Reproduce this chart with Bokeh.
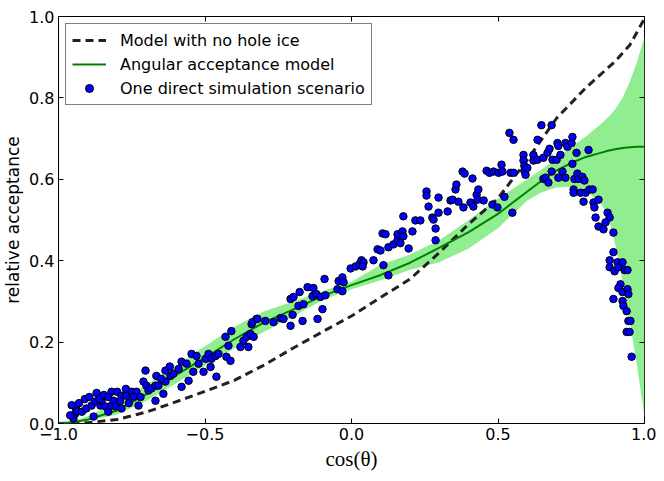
from bokeh.plotting import figure
from bokeh.models import Range1d, FixedTicker, LinearAxis, Legend, LegendItem
from bokeh.embed import file_html
from bokeh.resources import INLINE

# ---- data ----
band_x = [-1.0, -0.95, -0.9, -0.8, -0.7, -0.6, -0.5, -0.4, -0.3, -0.2, -0.1, 0.0, 0.1, 0.2,
          0.3, 0.4, 0.5, 0.6, 0.65, 0.7, 0.75, 0.8, 0.85, 0.875, 0.9, 0.925, 0.95, 0.975, 1.0]
band_lower = [0.0, 0.001, 0.006, 0.022, 0.055, 0.098, 0.142, 0.185, 0.225, 0.262, 0.303, 0.33,
              0.352, 0.378, 0.396, 0.43, 0.48, 0.548, 0.568, 0.58, 0.582, 0.572, 0.543, 0.51,
              0.44, 0.35, 0.25, 0.14, 0.015]
band_upper = [0.0, 0.006, 0.018, 0.05, 0.095, 0.142, 0.19, 0.238, 0.275, 0.3, 0.325, 0.348,
              0.39, 0.415, 0.45, 0.5, 0.553, 0.6, 0.625, 0.652, 0.68, 0.705, 0.735, 0.752,
              0.772, 0.8, 0.84, 0.89, 0.95]
model_y = [0.0, 0.003, 0.01, 0.032, 0.072, 0.118, 0.162, 0.207, 0.248, 0.28, 0.313, 0.34,
           0.365, 0.395, 0.432, 0.47, 0.515, 0.57, 0.597, 0.622, 0.64, 0.655, 0.665, 0.67,
           0.674, 0.677, 0.679, 0.68, 0.68]

nohole_x = [-1.0, -0.9, -0.8, -0.7, -0.6, -0.5, -0.4, -0.3, -0.2, -0.1, 0.0, 0.1, 0.2, 0.3,
            0.4, 0.5, 0.6, 0.7, 0.8, 0.9, 0.95, 1.0]
nohole_y = [0.0, 0.002, 0.01, 0.028, 0.053, 0.079, 0.106, 0.143, 0.185, 0.225, 0.264, 0.31,
            0.355, 0.42, 0.49, 0.553, 0.648, 0.75, 0.825, 0.89, 0.93, 0.995]

sim_pts = [
    (-0.949, 0.012), (-0.943, 0.024), (-0.94, 0.037), (-0.935, 0.03), (-0.92, 0.029),
    (-0.905, 0.037), (-0.887, 0.044), (-0.874, 0.054), (-0.857, 0.044), (-0.853, 0.056),
    (-0.84, 0.042), (-0.83, 0.029), (-0.819, 0.044), (-0.812, 0.056), (-0.805, 0.042),
    (-0.819, 0.078), (-0.80, 0.078), (-0.785, 0.068), (-0.768, 0.068), (-0.75, 0.078),
    (-0.734, 0.078), (-0.744, 0.066), (-0.727, 0.044), (-0.785, 0.037), (-0.88, 0.017),
    (-0.71, 0.103), (-0.703, 0.130), (-0.70, 0.093), (-0.693, 0.081), (-0.683, 0.086),
    (-0.669, 0.093), (-0.666, 0.117), (-0.669, 0.056), (-0.659, 0.093), (-0.642, 0.073),
    (-0.635, 0.130), (-0.635, 0.103), (-0.618, 0.117), (-0.608, 0.122), (-0.59, 0.134),
    (-0.58, 0.152), (-0.58, 0.090), (-0.563, 0.147), (-0.556, 0.105), (-0.546, 0.171),
    (-0.54, 0.127), (-0.529, 0.166), (-0.522, 0.147), (-0.505, 0.127), (-0.498, 0.159),
    (-0.488, 0.171), (-0.481, 0.139), (-0.478, 0.159), (-0.464, 0.166), (-0.461, 0.115),
    (-0.454, 0.171), (-0.43, 0.213), (-0.427, 0.164), (-0.42, 0.191), (-0.413, 0.154),
    (-0.41, 0.227), (-0.379, 0.188), (-0.369, 0.203), (-0.358, 0.213), (-0.352, 0.188),
    (-0.345, 0.22), (-0.334, 0.213), (-0.324, 0.257), (-0.341, 0.244),
    (-0.96, 0.02), (-0.955, 0.045), (-0.93, 0.05), (-0.91, 0.06), (-0.895, 0.065),
    (-0.87, 0.075), (-0.86, 0.06), (-0.845, 0.07), (-0.83, 0.065), (-0.79, 0.055),
    (-0.76, 0.05), (-0.72, 0.065), (-0.77, 0.085), (-0.65, 0.11), (-0.62, 0.14),
    (-0.338, 0.249), (-0.321, 0.257), (-0.294, 0.252), (-0.266, 0.249), (-0.242, 0.259),
    (-0.232, 0.257), (-0.208, 0.240), (-0.201, 0.267), (-0.208, 0.306), (-0.198, 0.311),
    (-0.177, 0.323), (-0.181, 0.289), (-0.167, 0.252), (-0.164, 0.293), (-0.15, 0.335),
    (-0.133, 0.313), (-0.13, 0.333), (-0.12, 0.318), (-0.116, 0.257), (-0.106, 0.311),
    (-0.099, 0.281), (-0.092, 0.355), (-0.089, 0.315), (-0.048, 0.330), (-0.044, 0.350),
    (-0.031, 0.359), (-0.031, 0.325), (-0.027, 0.347), (-0.003, 0.381), (0.014, 0.386),
    (0.027, 0.391), (0.034, 0.401), (0.041, 0.396), (0.038, 0.386), (0.075, 0.401),
    (0.089, 0.428), (0.099, 0.425), (0.109, 0.389), (0.106, 0.467), (0.116, 0.465),
    (0.126, 0.364), (0.126, 0.433), (0.143, 0.440), (0.157, 0.450), (0.157, 0.465),
    (0.167, 0.443), (0.174, 0.472), (0.177, 0.460), (0.177, 0.509), (0.195, 0.430),
    (0.208, 0.472), (0.218, 0.499), (0.235, 0.499), (0.256, 0.570), (0.256, 0.560),
    (0.263, 0.533), (0.276, 0.506), (0.28, 0.501), (0.287, 0.479), (0.287, 0.450),
    (0.297, 0.555), (0.297, 0.518), (0.328, 0.521), (0.338, 0.548),
    (0.345, 0.550), (0.355, 0.575), (0.358, 0.587), (0.365, 0.545), (0.379, 0.619),
    (0.386, 0.614), (0.382, 0.531), (0.406, 0.543), (0.413, 0.602), (0.416, 0.533),
    (0.427, 0.562), (0.430, 0.550), (0.433, 0.575), (0.451, 0.548), (0.461, 0.621),
    (0.471, 0.616), (0.481, 0.538), (0.485, 0.619), (0.498, 0.531), (0.502, 0.616),
    (0.512, 0.636), (0.515, 0.619), (0.522, 0.557), (0.539, 0.714), (0.553, 0.697),
    (0.543, 0.616), (0.553, 0.616), (0.549, 0.518), (0.587, 0.660), (0.587, 0.646),
    (0.59, 0.633), (0.59, 0.621), (0.594, 0.611), (0.6, 0.628), (0.621, 0.660),
    (0.621, 0.646), (0.635, 0.648), (0.635, 0.697), (0.648, 0.733), (0.655, 0.601),
    (0.655, 0.653), (0.662, 0.604), (0.669, 0.665), (0.672, 0.592), (0.676, 0.675),
    (0.683, 0.733), (0.686, 0.648), (0.683, 0.619), (0.7, 0.648), (0.703, 0.689),
    (0.706, 0.682), (0.706, 0.604), (0.713, 0.660), (0.72, 0.619), (0.73, 0.689),
    (0.73, 0.604), (0.737, 0.680), (0.751, 0.689), (0.754, 0.704), (0.754, 0.638),
    (0.758, 0.575), (0.758, 0.567), (0.761, 0.601), (0.768, 0.665), (0.771, 0.614),
    (0.775, 0.601), (0.782, 0.567), (0.788, 0.606), (0.792, 0.545), (0.795, 0.597),
    (0.799, 0.567), (0.809, 0.672), (0.812, 0.575), (0.823, 0.575), (0.826, 0.543),
    (0.829, 0.531), (0.833, 0.506), (0.843, 0.550),
    (0.843, 0.484), (0.860, 0.477), (0.874, 0.518), (0.881, 0.506), (0.867, 0.494),
    (0.894, 0.469), (0.894, 0.421), (0.881, 0.401), (0.881, 0.384), (0.898, 0.374),
    (0.908, 0.396), (0.911, 0.384), (0.925, 0.396), (0.932, 0.377), (0.942, 0.377),
    (0.918, 0.342), (0.911, 0.333), (0.925, 0.323), (0.942, 0.330), (0.945, 0.318),
    (0.894, 0.306), (0.925, 0.301), (0.928, 0.289), (0.939, 0.276), (0.945, 0.252),
    (0.952, 0.252), (0.939, 0.225), (0.949, 0.225), (0.956, 0.164),
]
sim_x = [p[0] for p in sim_pts]
sim_y = [p[1] for p in sim_pts]

x_ticks = [-1.0, -0.5, 0.0, 0.5, 1.0]
x_tick_labels = ["\u22121.0", "\u22120.5", "0.0", "0.5", "1.0"]
y_ticks = [0.0, 0.2, 0.4, 0.6, 0.8, 1.0]
y_tick_labels = ["0.0", "0.2", "0.4", "0.6", "0.8", "1.0"]

FONT = "DejaVu Sans"

p = figure(width=656, height=473, output_backend="svg", toolbar_location=None,
           x_range=Range1d(-1, 1), y_range=Range1d(0, 1),
           min_border_left=58, min_border_right=12, min_border_top=16, min_border_bottom=48)
p.grid.visible = False
p.outline_line_color = "black"
p.outline_line_width = 1
p.background_fill_color = "white"
p.border_fill_color = "white"

band = p.varea(x=band_x, y1=band_lower, y2=band_upper, fill_color="#90EE90", fill_alpha=1.0)
dash = p.line(nohole_x, nohole_y, line_color="#222222", line_width=3, line_dash="8 5")
model = p.line(band_x, model_y, line_color="#008000", line_width=2)
sim = p.scatter(sim_x, sim_y, size=7.5, fill_color="#0000ff", line_color="black", line_width=1)


def style_axis(ax, ticks, labels, show_labels=True):
    ax.ticker = FixedTicker(ticks=ticks)
    ax.axis_line_color = None
    ax.major_tick_in = 5
    ax.major_tick_out = 0
    ax.minor_tick_line_color = None
    ax.major_tick_line_color = "black"
    ax.major_label_text_font = FONT
    if show_labels:
        ax.major_label_overrides = {t: l for t, l in zip(ticks, labels)}
        ax.major_label_text_color = "black"
        ax.major_label_text_font_size = "16px"
        ax.major_label_standoff = 4
    else:
        ax.major_label_text_color = None
        ax.major_label_text_font_size = "1px"
        ax.major_label_standoff = 0


style_axis(p.xaxis[0], x_ticks, x_tick_labels)
style_axis(p.yaxis[0], y_ticks, y_tick_labels)
p.xaxis[0].axis_label = "cos(\u03b8)"
p.xaxis[0].axis_label_text_font = "Liberation Serif"
p.xaxis[0].axis_label_text_font_style = "normal"
p.xaxis[0].axis_label_text_font_size = "21px"
p.xaxis[0].axis_label_text_color = "black"
p.xaxis[0].axis_label_standoff = 4
p.yaxis[0].axis_label = "relative acceptance"
p.yaxis[0].axis_label_text_font = FONT
p.yaxis[0].axis_label_text_font_style = "normal"
p.yaxis[0].axis_label_text_font_size = "17px"
p.yaxis[0].axis_label_text_color = "black"
p.yaxis[0].axis_label_standoff = 3

top = LinearAxis()
style_axis(top, x_ticks, x_tick_labels, show_labels=False)
p.add_layout(top, "above")
right = LinearAxis()
style_axis(right, y_ticks, y_tick_labels, show_labels=False)
p.add_layout(right, "right")

legend = Legend(items=[
    LegendItem(label="Model with no hole ice", renderers=[dash]),
    LegendItem(label="Angular acceptance model", renderers=[model]),
    LegendItem(label="One direct simulation scenario", renderers=[sim]),
], location="top_left")
legend.margin = 7
legend.padding = 6
legend.spacing = 4
legend.label_height = 20
legend.glyph_height = 20
legend.glyph_width = 34
legend.label_standoff = 14
legend.label_text_font = FONT
legend.label_text_font_size = "16px"
legend.label_text_color = "black"
legend.border_line_color = "black"
legend.border_line_width = 1
legend.background_fill_alpha = 1.0
p.add_layout(legend, "center")

open("out.html", "w").write(file_html(p, INLINE))
